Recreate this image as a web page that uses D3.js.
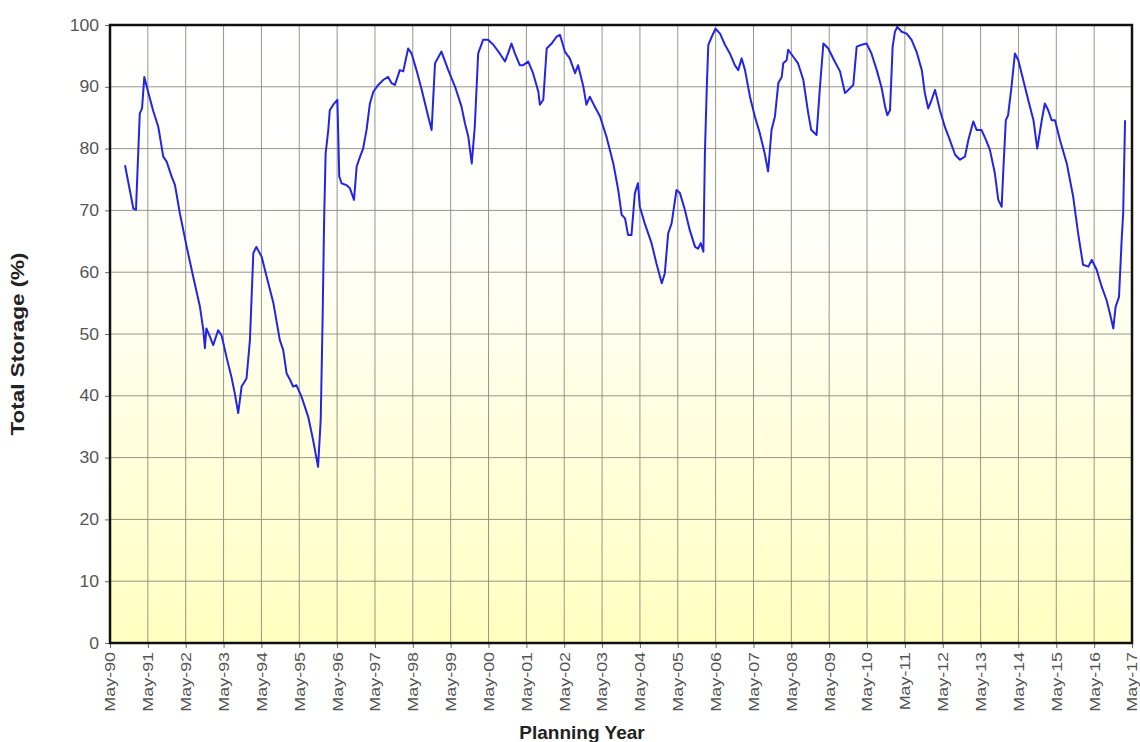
<!DOCTYPE html>
<html>
<head>
<meta charset="utf-8">
<script src="https://cdn.jsdelivr.net/npm/d3@7"></script>
<style>
  html, body { margin: 0; padding: 0; background: #ffffff; }
  svg { display: block; }
</style>
</head>
<body>
<svg id="chart" width="1140" height="742"></svg>
<script>
// ---- Data (decimal year, % storage) ----
const years = [
  1990.73,1990.95,1991.02,1991.12,1991.18,1991.24,1991.34,1991.47,1991.61,1991.74,1991.83,1991.96,
  1992.05,1992.18,1992.36,1992.53,1992.71,1992.80,1992.84,1992.88,1992.97,1993.06,1993.19,1993.28,
  1993.41,1993.54,1993.63,1993.72,1993.81,1993.94,1994.03,1994.12,1994.20,1994.34,1994.47,1994.65,
  1994.82,1994.91,1995.00,1995.09,1995.17,1995.26,1995.39,1995.57,1995.70,1995.83,1995.90,1995.95,
  1995.99,1996.03,1996.10,1996.14,1996.23,1996.34,1996.39,1996.45,1996.58,1996.67,1996.78,1996.85,
  1996.94,1997.02,1997.11,1997.20,1997.29,1997.42,1997.55,1997.68,1997.77,1997.86,1997.99,1998.08,
  1998.21,1998.30,1998.43,1998.57,1998.74,1998.83,1998.92,1999.09,1999.27,1999.45,1999.62,1999.71,
  1999.80,1999.89,1999.97,2000.06,2000.19,2000.32,2000.46,2000.63,2000.77,2000.85,2000.94,2001.03,
  2001.16,2001.25,2001.38,2001.51,2001.65,2001.69,2001.78,2001.87,2002.00,2002.13,2002.22,2002.26,
  2002.35,2002.48,2002.62,2002.70,2002.84,2002.92,2003.01,2003.14,2003.28,2003.45,2003.63,2003.76,
  2003.85,2003.94,2004.02,2004.11,2004.20,2004.28,2004.33,2004.46,2004.64,2004.77,2004.91,2004.99,
  2005.08,2005.17,2005.30,2005.39,2005.52,2005.65,2005.79,2005.87,2005.94,2006.01,2006.05,2006.10,
  2006.14,2006.23,2006.33,2006.45,2006.58,2006.71,2006.84,2006.93,2007.02,2007.11,2007.24,2007.37,
  2007.50,2007.63,2007.72,2007.81,2007.90,2007.99,2008.08,2008.12,2008.21,2008.25,2008.38,2008.51,
  2008.65,2008.78,2008.86,2009.00,2009.09,2009.18,2009.31,2009.48,2009.62,2009.75,2009.84,2009.97,
  2010.06,2010.19,2010.32,2010.45,2010.59,2010.72,2010.81,2010.87,2010.94,2011.01,2011.07,2011.13,
  2011.25,2011.38,2011.51,2011.64,2011.78,2011.86,2011.95,2012.04,2012.13,2012.26,2012.39,2012.52,
  2012.66,2012.79,2012.92,2013.01,2013.14,2013.23,2013.36,2013.47,2013.58,2013.71,2013.80,2013.89,
  2013.93,2014.00,2014.06,2014.15,2014.24,2014.33,2014.46,2014.59,2014.73,2014.83,2014.95,2015.03,
  2015.12,2015.21,2015.30,2015.43,2015.61,2015.78,2015.91,2016.04,2016.18,2016.27,2016.40,2016.53,
  2016.66,2016.75,2016.84,2016.90,2016.99,2017.06,2017.10,2017.15
];
const storage = [
  77.3,70.3,70.1,85.7,86.5,91.6,89.2,86.2,83.5,78.7,77.9,75.5,
  74.1,69.5,64.1,59.3,54.4,50.6,47.7,50.9,49.6,48.2,50.6,49.8,
  46.3,43.1,40.4,37.2,41.5,42.8,49.0,63.1,64.1,62.5,59.3,55.0,
  49.0,47.4,43.6,42.6,41.5,41.7,39.9,36.6,32.8,28.5,36.1,52.3,
  68.4,79.2,83.0,86.2,87.1,87.9,75.5,74.4,74.1,73.6,71.7,77.1,
  78.7,80.0,83.0,87.3,89.2,90.3,91.1,91.6,90.6,90.3,92.7,92.5,
  96.2,95.4,92.7,89.5,85.2,83.0,93.8,95.7,92.7,90.0,86.8,84.1,
  81.9,77.6,83.5,95.4,97.6,97.6,96.8,95.4,94.1,95.4,97.0,95.4,
  93.5,93.5,94.1,92.2,89.2,87.1,87.9,96.2,97.0,98.1,98.4,97.6,
  95.7,94.6,92.2,93.5,90.0,87.1,88.4,86.8,85.2,81.9,77.6,73.3,
  69.3,68.7,66.0,66.0,72.8,74.4,70.6,67.9,64.7,61.4,58.2,59.8,
  66.3,67.9,73.3,72.8,70.1,66.8,64.1,63.8,64.7,63.3,79.2,90.0,
  96.8,98.1,99.4,98.6,96.8,95.4,93.5,92.7,94.6,92.7,88.4,85.2,
  82.5,79.2,76.3,83.0,85.2,90.6,91.6,93.8,94.3,96.0,94.9,93.8,
  91.1,85.7,83.0,82.2,90.0,97.0,96.2,94.1,92.5,89.0,89.5,90.3,
  96.5,96.8,97.0,95.4,92.7,89.8,86.8,85.4,86.2,96.5,98.9,99.7,
  98.9,98.6,97.6,95.7,92.7,89.0,86.5,87.9,89.5,86.2,83.5,81.4,
  79.0,78.2,78.7,81.4,84.4,83.0,83.0,81.5,79.8,76.0,71.7,70.6,
  76.0,84.6,85.4,90.0,95.4,94.3,91.1,87.9,84.6,80.0,84.6,87.3,
  86.2,84.6,84.6,81.4,77.6,72.2,66.3,61.2,60.9,62.0,60.4,57.7,
  55.5,53.3,50.9,54.4,56.0,65.2,69.5,84.6
];
const tickYears = d3.range(1990, 2018);
const tickLabels = tickYears.map(y => "May-" + String(y % 100).padStart(2, "0"));
const yTicks = d3.range(0, 101, 10);
const yTitle = "Total  Storage (%)";
const xTitle = "Planning Year";

// ---- Layout ----
const margin = { left: 110, top: 25, right: 1140 - 1132, bottom: 742 - 643 };
const W = 1140, H = 742;
const iw = W - margin.left - margin.right;
const ih = H - margin.top - margin.bottom;
const MAY = 4 / 12;
const FONT = "Arial, 'Liberation Sans', sans-serif";

const svg = d3.select("#chart");
const defs = svg.append("defs");
const grad = defs.append("linearGradient").attr("id", "bg")
  .attr("x1", 0).attr("y1", 0).attr("x2", 0).attr("y2", 1);
grad.append("stop").attr("offset", "0%").attr("stop-color", "#ffffff");
grad.append("stop").attr("offset", "35%").attr("stop-color", "#fffffa");
grad.append("stop").attr("offset", "100%").attr("stop-color", "#ffffc0");

const g = svg.append("g").attr("transform", `translate(${margin.left},${margin.top})`);

const x = d3.scaleLinear().domain([1990 + MAY, 2017 + MAY]).range([0, iw]);
const y = d3.scaleLinear().domain([0, 100]).range([ih, 0]);

g.append("rect").attr("width", iw).attr("height", ih).attr("fill", "url(#bg)");

// grid
g.append("g").selectAll("line").data(yTicks.slice(1, -1)).join("line")
  .attr("x1", 0).attr("x2", iw).attr("y1", d => y(d)).attr("y2", d => y(d))
  .attr("stroke", "#85857a").attr("stroke-width", 1).attr("opacity", 0.85);
g.append("g").selectAll("line").data(tickYears.slice(1, -1)).join("line")
  .attr("y1", 0).attr("y2", ih).attr("x1", d => x(d + MAY)).attr("x2", d => x(d + MAY))
  .attr("stroke", "#85857a").attr("stroke-width", 1).attr("opacity", 0.85);

// axes
const yAxis = d3.axisLeft(y).tickValues(yTicks).tickSize(5).tickPadding(5);
const yg = g.append("g").call(yAxis);
yg.select(".domain").remove();
yg.selectAll(".tick line").attr("stroke", "#666");
yg.selectAll("text").attr("font-family", FONT)
  .attr("font-size", 16).attr("fill", "#555")
  .attr("transform", "scale(1.1,1)");

const xAxis = d3.axisBottom(x).tickValues(tickYears.map(d => d + MAY))
  .tickFormat((d, i) => tickLabels[i]).tickSize(5).tickPadding(6);
const xg = g.append("g").attr("transform", `translate(0,${ih})`).call(xAxis);
xg.select(".domain").remove();
xg.selectAll(".tick line").attr("stroke", "#666");
xg.selectAll("text")
  .attr("font-family", FONT)
  .attr("font-size", 14).attr("fill", "#555")
  .attr("text-anchor", "end")
  .attr("transform", "rotate(-90) scale(1.28,1)")
  .attr("x", -7).attr("y", 0).attr("dy", "0.35em");

// frame
g.append("rect").attr("width", iw).attr("height", ih)
  .attr("fill", "none").attr("stroke", "#111").attr("stroke-width", 2.5);

// line
const line = d3.line().x((d, i) => x(years[i])).y(d => y(d));
g.append("path").datum(storage)
  .attr("d", line)
  .attr("fill", "none")
  .attr("stroke", "#2424e6")
  .attr("stroke-width", 2)
  .attr("stroke-linejoin", "round");

// titles
svg.append("text")
  .attr("transform", `translate(24,${margin.top + ih / 2 + 10}) rotate(-90) scale(1.25,1)`)
  .attr("text-anchor", "middle")
  .attr("font-family", FONT)
  .attr("font-weight", "bold").attr("font-size", 18).attr("fill", "#222")
  .text(yTitle);
svg.append("text")
  .attr("x", 582).attr("y", 739)
  .attr("text-anchor", "middle")
  .attr("font-family", FONT)
  .attr("font-weight", "bold").attr("font-size", 19).attr("fill", "#222")
  .text(xTitle);
</script>
</body>
</html>
